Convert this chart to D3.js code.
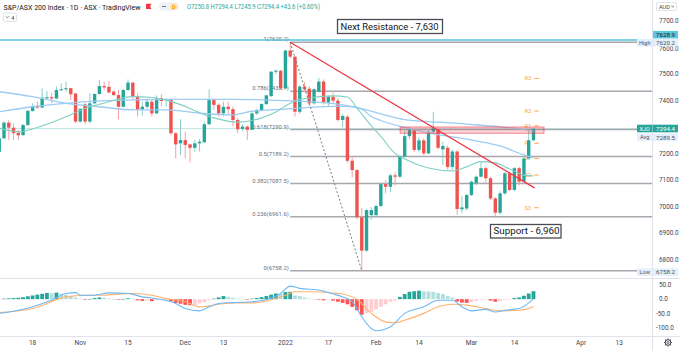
<!DOCTYPE html>
<html><head><meta charset="utf-8">
<script src="https://cdn.jsdelivr.net/npm/d3@7"></script>
<style>body{margin:0;background:#fff}svg{display:block;font-family:Roboto,"Open Sans",sans-serif}</style>
</head><body><svg id="c" width="680" height="351"></svg>
<script>
// ---------- DATA ----------
const opens  = [7207,7258,7317,7298,7279,7270,7308,7361,7380,7374,7411,7413,7408,7440,7443,7447,7427,7321,7386,7321,7390,7425,7455,7452,7434,7421,7377,7440,7468,7415,7367,7377,7396,7352,7409,7404,7405,7277,7239,7251,7235,7222,7239,7243,7311,7402,7384,7352,7377,7368,7327,7293,7302,7290,7352,7365,7387,7417,7509,7513,7446,7589,7566,7358,7453,7445,7390,7434,7472,7393,7415,7400,7327,7339,7173,7138,6960,6834,6968,6968,7002,7085,7075,7118,7113,7189,7266,7291,7214,7250,7201,7283,7292,7216,7222,7150,7208,6990,6993,7044,7088,7113,7145,7107,7031,6977,7050,7126,7063,7145,7094,7182,7250.8];
const highs  = [7262,7322,7327,7314,7289,7312,7365,7390,7396,7446,7436,7430,7453,7465,7471,7448,7430,7372,7390,7428,7428,7478,7472,7474,7440,7440,7444,7480,7470,7428,7396,7408,7402,7420,7424,7408,7408,7280,7330,7283,7238,7252,7255,7320,7443,7408,7390,7396,7396,7378,7334,7310,7306,7356,7370,7390,7422,7512,7518,7515,7592,7620.2,7570,7460,7470,7455,7446,7486,7480,7420,7430,7410,7350,7345,7190,7142,6995,6992,6998,7008,7092,7100,7125,7130,7195,7290,7300,7296,7262,7258,7292,7358,7298,7245,7230,7215,7212,7040,7048,7098,7118,7168,7150,7112,7036,7058,7130,7132,7150,7150,7186,7287,7294.4];
const lows   = [7200,7255,7252,7252,7252,7266,7305,7358,7370,7371,7403,7390,7405,7436,7434,7402,7315,7318,7311,7315,7386,7423,7440,7428,7418,7330,7374,7437,7402,7340,7343,7370,7340,7350,7378,7378,7270,7182,7195,7182,7167,7208,7208,7240,7308,7365,7340,7340,7345,7302,7277,7285,7252,7288,7346,7360,7384,7414,7500,7440,7444,7560,7340,7350,7432,7380,7385,7430,7385,7380,7390,7320,7300,7165,7110,6950,6758.2,6830,6950,6960,7000,7050,7055,7080,7108,7185,7255,7205,7205,7195,7198,7275,7215,7158,7140,7140,6968,6975,6985,7040,7080,7110,7090,7025,6965,6970,7045,7058,7058,7080,7090,7178,7245.9];
const closes = [7258,7317,7298,7277,7269,7308,7361,7380,7374,7411,7413,7408,7440,7443,7447,7424,7321,7369,7321,7390,7425,7455,7450,7431,7421,7377,7440,7468,7415,7365,7377,7396,7352,7409,7399,7406,7277,7235,7251,7233,7222,7239,7245,7311,7402,7384,7352,7377,7368,7327,7292,7302,7290,7352,7365,7387,7420,7509,7513,7446,7589,7566,7358,7453,7443,7390,7443,7472,7392,7415,7400,7327,7342,7173,7138,6960,6834,6987,6987,7002,7085,7075,7118,7113,7189,7266,7291,7214,7250,7201,7283,7296,7222,7229,7150,7208,6991,6997,7044,7094,7113,7145,7107,7031,6977,7050,7126,7063,7145,7094,7182,7250.8,7294.4];

const ma20Bars = [0,4,9,14,18,23,28,32,35,38,41,45,50,55,58,60,62,65,70,73,75,78,80,83,85,90,95,98,101,104,107,110,112];
const ma20Vals = [7296,7283,7305,7339,7370,7396,7415,7412,7402,7385,7362,7335,7319,7335,7357,7380,7399,7410,7418,7414,7372,7305,7265,7200,7180,7146,7135,7150,7170,7165,7142,7119,7116];
const ma50Bars = [0,7,14,21,28,35,42,49,53,60,70,73,76,78,80,85,90,95,100,105,110,112];
const ma50Vals = [7434,7415,7390,7377,7365,7365,7353,7346,7360,7368,7378,7378,7368,7340,7325,7299,7278,7263,7248,7229,7195,7184];
const ma100Bars = [0,7,14,21,35,49,60,66,72,76,80,85,90,95,100,105,110,112];
const ma100Vals = [7358,7377,7390,7399,7405,7405,7400,7395,7384,7370,7350,7328,7321,7316,7308,7301,7291,7285];

// MACD
const histVals = [-1,2,3,4,5,7,10,13,16,19,22,21,23,19,15,11,6,2,-1,1,4,6,5,2,1,-1,1,3,2,-4,-6,-5,-7,-4,-2,-1,-7,-13,-16,-20,-21,-19,-15,-11,-4,2,6,11,8,5,2,1,-0.5,2,4,7,11,16,20,18,25,26,13,11,6,2,1,-2,-4,-2,-5,-9,-13,-18,-27,-39,-55,-50,-45,-36,-27,-18,-9,-5,8,18,26,28,30,28,27,26,22,18,12,6,-8,-12,-13,-10,-6,-3,-2,-5,-9,-7,-3,-1,4,6,12,20,28];
const macdBars = [0,4,7,11,14,16,17,20,23,27,30,34,37,39,42,44,46,49,53,56,59,61,63,67,70,72,74,76,78,79,82,85,89,92,95,97,99,102,104,106,109,111,112];
const macdVals = [-50,-39,-27,-3,20,23,14,14,22,20,8,-1,-15,-33,-41,-27,-15,-12,-9,-1,20,46,38,32,18,8,-9,-62,-103,-111,-97,-50,-27,-4,-4,-27,-41,-36,-45,-39,-33,-13,2];
const sigBars = [0,7,14,18,21,28,32,35,39,42,46,49,53,56,60,62,65,70,72,75,78,81,83,85,89,92,95,98,102,105,109,111,112];
const sigVals = [-47,-33,8,14,14,20,14,2,-9,-27,-18,-13,-13,-6,14,26,26,22,18,-1,-50,-80,-83,-74,-50,-27,-18,-21,-33,-41,-39,-33,-25];

// axes
const tickLabels = ["18","Nov","15","Dec","13","2022","17","Feb","14","Mar","14","Apr","13"];
const tickBars   = [7,17,27,39,47,60,69,79,88,99,108,122,130];
const priceTicks = [7700,7600,7500,7400,7200,7100,7000,6900,6800];
const macdTicks  = [50,0,-50,-100];

// drawings
const fibRatios = ["1","0.786","0.618","0.5","0.382","0.236","0"];
const fibPrices = [7620.2,7435.7,7290.9,7189.2,7087.5,6961.6,6758.2];
const fibFrom = {bar:61, price:7620.2}, fibTo = {bar:76, price:6758.2};
const trendFrom = {bar:61, price:7620.2}, trendTo = {bar:112.2, price:7071};
const zone = {bar0:84.05, bar1:114.2, p0:7277, p1:7300.5};
const pivotNames  = ["R3","R2","R1","P","S1","S2","S3"];
const pivotPrices = [7484,7361,7305,7239,7182,7119,6996];
const resistancePrice = 7628.9;
const lastPrice = 7294.4, avgPrice = 7289.5, hiPrice = 7620.2, loPrice = 6758.2;

// ---------- DRAW ----------
const svg = d3.select('#c');
const PR = 652;
const x  = d3.scaleLinear().domain([0,130]).range([-0.77,619.33]);
const y  = d3.scaleLinear().domain([6730.7,7779.8]).range([278,0]);
const ym = d3.scaleLinear().domain([-129.6,71]).range([336,279]);
const UP='#26a69a', DN='#ef5350';

const defs = svg.append('defs');
defs.append('clipPath').attr('id','cm').append('rect').attr('x',0).attr('y',0).attr('width',PR).attr('height',278);
defs.append('clipPath').attr('id','cd').append('rect').attr('x',0).attr('y',279).attr('width',PR).attr('height',57);

const main = svg.append('g').attr('clip-path','url(#cm)');

main.append('line').attr('x1',0).attr('x2',PR).attr('y1',y(lastPrice)).attr('y2',y(lastPrice))
  .attr('stroke',UP).attr('stroke-opacity',0.3).attr('stroke-width',1);

const fx0 = x(fibFrom.bar);
fibPrices.forEach((p,i)=>{
  main.append('line').attr('x1',fx0).attr('x2',PR).attr('y1',y(p)).attr('y2',y(p))
    .attr('stroke','#a6a8ae').attr('stroke-width',1.6);
  main.append('text').attr('x',fx0-1.5).attr('y',y(p)-0.8).attr('text-anchor','end')
    .attr('font-size',5.8).attr('fill','#6a6d78').text(`${fibRatios[i]}(${p.toFixed(1)})`);
});
main.append('line').attr('x1',0).attr('x2',PR).attr('y1',y(resistancePrice)).attr('y2',y(resistancePrice))
  .attr('stroke','#55c3d8').attr('stroke-width',1.7);

pivotNames.forEach((n,i)=>{
  const py=y(pivotPrices[i]);
  main.append('text').attr('x',x(110.1)).attr('y',py+2).attr('font-size',5.8).attr('fill','#ffa43a').text(n);
  main.append('line').attr('x1',x(112.2)).attr('x2',x(113.1)).attr('y1',py).attr('y2',py).attr('stroke','#ffa43a').attr('stroke-width',1);
});

const N = closes.length, bw = 3.4;
const idx = d3.range(N);
main.selectAll('line.wick').data(idx).join('line').attr('class','wick')
  .attr('x1',i=>x(i)).attr('x2',i=>x(i)).attr('y1',i=>y(highs[i])).attr('y2',i=>y(lows[i]))
  .attr('stroke',i=>closes[i]>=opens[i]?'#86cfc7':'#f5a0a0').attr('stroke-width',1);
main.selectAll('rect.body').data(idx).join('rect').attr('class','body')
  .attr('x',i=>x(i)-bw/2).attr('width',bw)
  .attr('y',i=>y(Math.max(opens[i],closes[i])))
  .attr('height',i=>Math.max(1,Math.abs(y(opens[i])-y(closes[i]))))
  .attr('fill',i=>closes[i]>=opens[i]?UP:DN);

const maLine = (bars,vals,color,w)=>main.append('path')
  .attr('d',d3.line().x((d,i)=>x(bars[i])).y(d=>y(d)).curve(d3.curveMonotoneX)(vals))
  .attr('fill','none').attr('stroke',color).attr('stroke-width',w);
maLine(ma100Bars,ma100Vals,'#9ccbf3',1.3);
maLine(ma50Bars,ma50Vals,'#9ccbf3',1.3);
maLine(ma20Bars,ma20Vals,'#7fcfc4',1.1);

main.append('line').attr('x1',x(fibFrom.bar)).attr('y1',y(fibFrom.price)).attr('x2',x(fibTo.bar)).attr('y2',y(fibTo.price))
  .attr('stroke','#787b86').attr('stroke-width',1).attr('stroke-dasharray','2,2');
main.append('line').attr('x1',x(trendFrom.bar)).attr('y1',y(trendFrom.price)).attr('x2',x(trendTo.bar)).attr('y2',y(trendTo.price))
  .attr('stroke','#f23645').attr('stroke-width',1.3);
main.append('rect').attr('x',x(zone.bar0)).attr('y',y(zone.p1)).attr('width',x(zone.bar1)-x(zone.bar0)).attr('height',y(zone.p0)-y(zone.p1))
  .attr('fill','#f23645').attr('fill-opacity',0.2).attr('stroke','#f23645').attr('stroke-opacity',0.6).attr('stroke-width',1);

function note(tx,bx,by,bwid,bh,tl){
  svg.append('rect').attr('x',bx).attr('y',by).attr('width',bwid).attr('height',bh).attr('fill','#fff').attr('stroke','#4a4c55').attr('stroke-width',1.3);
  svg.append('text').attr('x',bx+3).attr('y',by+bh-3.6).attr('font-size',9.6).attr('fill','#131722')
    .attr('textLength',tl).attr('lengthAdjust','spacingAndGlyphs').text(tx);
}
note('Next Resistance - 7,630',337.5,19.5,105,14,98);
note('Support - 6,960',490.5,224.5,70.5,13.5,66);

// ---------- MACD pane ----------
const macd = svg.append('g').attr('clip-path','url(#cd)');
macd.selectAll('rect.h').data(idx).join('rect').attr('class','h')
  .attr('x',i=>x(i)-1.9).attr('width',3.8)
  .attr('y',i=>Math.min(ym(histVals[i]),ym(0)))
  .attr('height',i=>Math.max(0.6,Math.abs(ym(histVals[i])-ym(0))))
  .attr('fill',i=>{const v=histVals[i],p=i?histVals[i-1]:v;
     return v>=0?(v>=p?'#26a69a':'#b2dfdb'):(v<p?'#ff5252':'#ffcdd2');});
macd.append('path').attr('d',d3.line().x((d,i)=>x(sigBars[i])).y(d=>ym(d)).curve(d3.curveMonotoneX)(sigVals))
  .attr('fill','none').attr('stroke','#ffb270').attr('stroke-width',1.1);
macd.append('path').attr('d',d3.line().x((d,i)=>x(macdBars[i])).y(d=>ym(d)).curve(d3.curveMonotoneX)(macdVals))
  .attr('fill','none').attr('stroke','#6bb8f5').attr('stroke-width',1.1);

// ---------- separators ----------
const sep='#e0e3eb';
svg.append('line').attr('x1',0).attr('x2',680).attr('y1',278.5).attr('y2',278.5).attr('stroke',sep);
svg.append('line').attr('x1',0).attr('x2',680).attr('y1',336.5).attr('y2',336.5).attr('stroke',sep);
svg.append('line').attr('x1',PR+0.5).attr('x2',PR+0.5).attr('y1',0).attr('y2',351).attr('stroke',sep);

// ---------- price axis ----------
const ax = svg.append('g').attr('font-size',6.4).attr('fill','#434651');
priceTicks.forEach(p=>ax.append('text').attr('x',659).attr('y',y(p)+2.2+(p===7600?1.6:0)).text(p.toFixed(1)));
macdTicks.forEach(v=>ax.append('text').attr('x',v<0?656:659).attr('y',ym(v)+2.2).text(v.toFixed(1)));

function tag(label,val,cy,bg,fg,lbg){
  if(label){
    svg.append('rect').attr('x',637).attr('y',cy-3.8).attr('width',15.5).attr('height',7.6).attr('fill',lbg||bg);
    svg.append('text').attr('x',644.7).attr('y',cy+2).attr('text-anchor','middle').attr('font-size',5.6).attr('fill',fg).text(label);
  }
  svg.append('rect').attr('x',653).attr('y',cy-3.8).attr('width',25).attr('height',7.6).attr('fill',bg);
  svg.append('text').attr('x',665.5).attr('y',cy+2.2).attr('text-anchor','middle').attr('font-size',6.2).attr('fill',fg).text(val.toFixed(1));
}
tag(null,resistancePrice,34.7,'#5ec6da','#131722');
tag('High',hiPrice,42.7,'#e3effb','#50535e');
tag('XJO',lastPrice,128.5,'#26a69a','#ffffff');
tag('Avg',avgPrice,137.3,'#e3effb','#50535e');
tag('Low',loPrice,272.2,'#e3effb','#50535e');

svg.append('rect').attr('x',656.5).attr('y',2.5).attr('width',20).attr('height',8).attr('rx',1.5).attr('fill','#fff').attr('stroke','#e0e3eb');
svg.append('text').attr('x',659).attr('y',8.6).attr('font-size',5.6).attr('fill','#434651').text('AUD');
svg.append('path').attr('d','M671.3,5.8 l1.4,1.4 l1.4,-1.4').attr('fill','none').attr('stroke','#434651').attr('stroke-width',0.7);

// ---------- time axis ----------
tickLabels.forEach((t,i)=>svg.append('text').attr('x',x(tickBars[i])).attr('y',344.6).attr('text-anchor','middle')
  .attr('font-size',6.6).attr('fill','#434651').text(t));
const gx=668,gy=342.5, gear=svg.append('g').attr('stroke','#434651').attr('fill','none');
gear.append('circle').attr('cx',gx).attr('cy',gy).attr('r',2.8).attr('stroke-width',1);
gear.append('circle').attr('cx',gx).attr('cy',gy).attr('r',1.1).attr('stroke-width',0.8);
d3.range(8).forEach(k=>{const a=k*Math.PI/4;gear.append('line').attr('x1',gx+2.8*Math.cos(a)).attr('y1',gy+2.8*Math.sin(a))
  .attr('x2',gx+4*Math.cos(a)).attr('y2',gy+4*Math.sin(a)).attr('stroke-width',1.1);});

// ---------- header ----------
svg.append('text').attr('x',3.5).attr('y',9.5).attr('font-size',7.6).attr('fill','#131722')
  .attr('textLength',137).attr('lengthAdjust','spacingAndGlyphs').text('S&P/ASX 200 Index · 1D · ASX · TradingView');
svg.append('path').attr('d','M146,3.8 h5.6 l-1.6,2.6 l1.6,2.6 h-5.6 z').attr('fill','#f23645');
svg.append('rect').attr('x',159).attr('y',2.5).attr('width',19.5).attr('height',8).attr('rx',4).attr('fill','#eef0f5');
svg.append('line').attr('x1',162).attr('x2',166).attr('y1',6.5).attr('y2',6.5).attr('stroke','#50535e').attr('stroke-width',0.8);
svg.append('circle').attr('cx',173.8).attr('cy',6.5).attr('r',3.6).attr('fill','#ffe0b2');
svg.append('text').attr('x',173.8).attr('y',8.5).attr('text-anchor','middle').attr('font-size',5.4).attr('font-weight','bold').attr('fill','#ff9800').text('D');
svg.append('text').attr('x',187).attr('y',9.3).attr('font-size',6.8).attr('fill','#26a69a')
  .attr('textLength',133).attr('lengthAdjust','spacingAndGlyphs')
  .text(`O${opens[N-1].toFixed(1)} H${highs[N-1].toFixed(1)} L${lows[N-1].toFixed(1)} C${closes[N-1].toFixed(1)} +43.6 (+0.60%)`);
svg.append('rect').attr('x',3.5).attr('y',13).attr('width',13).attr('height',8.5).attr('rx',1.5).attr('fill','#fff').attr('stroke','#e0e3eb');
svg.append('path').attr('d','M6,16.3 l1.5,1.5 l1.5,-1.5').attr('fill','none').attr('stroke','#434651').attr('stroke-width',0.7);
svg.append('text').attr('x',11.3).attr('y',19.5).attr('font-size',5.6).attr('fill','#434651').text('4');
</script></body></html>
